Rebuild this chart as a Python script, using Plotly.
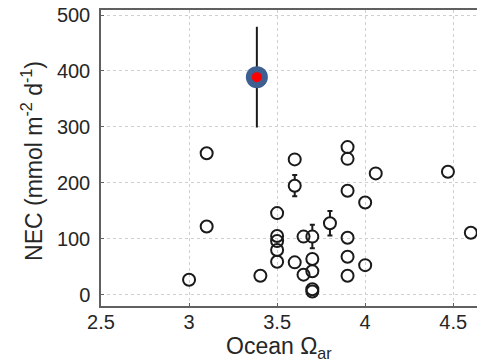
import plotly.graph_objects as go

# Open-circle observations (Ocean Omega_ar, NEC)
omega = [3.0, 3.1, 3.1, 3.405, 3.5, 3.5, 3.5, 3.5, 3.5, 3.6, 3.6, 3.6, 3.65, 3.65,
         3.7, 3.7, 3.7, 3.7, 3.7, 3.8, 3.9, 3.9, 3.9, 3.9, 3.9, 3.9, 4.0, 4.0,
         4.06, 4.47, 4.6]
nec = [27, 253, 122, 34, 146, 105, 96, 80, 59, 242, 195, 58, 104, 36,
       104, 64, 42, 10, 6, 128, 264, 243, 186, 102, 68, 34, 165, 53,
       217, 220, 111]

# Points with error bars
err_omega = [3.6, 3.7, 3.8, 3.9]
err_nec = [195, 104, 128, 186]
err_val = [19, 21, 22, 5]

# Highlighted point
hi_omega = [3.385]
hi_nec = [389]
hi_err = [90]

x_ticks = [2.5, 3.0, 3.5, 4.0, 4.5]
x_labels = ["2.5", "3", "3.5", "4", "4.5"]
y_ticks = [0, 100, 200, 300, 400, 500]
y_labels = ["0", "100", "200", "300", "400", "500"]

FONT = "Liberation Sans, Arial, sans-serif"
TXT = "#262626"
GRID = "#cfcfcf"

fig = go.Figure()

# error bars (with white disks hiding the part inside circles)
fig.add_trace(go.Scatter(
    x=err_omega, y=err_nec, mode="markers",
    marker=dict(size=12, color="white", line=dict(width=0)),
    error_y=dict(type="data", array=err_val, visible=True,
                 color="#1a1a1a", thickness=2, width=2.5),
    showlegend=False, hoverinfo="skip"))

fig.add_trace(go.Scatter(
    x=omega, y=nec, mode="markers",
    marker=dict(size=12, color="rgba(0,0,0,0)",
                line=dict(color="#1a1a1a", width=2)),
    showlegend=False))

fig.add_trace(go.Scatter(
    x=hi_omega, y=hi_nec, mode="markers",
    marker=dict(size=22, color="#3d5f91", line=dict(width=0)),
    error_y=dict(type="data", array=hi_err, visible=True,
                 color="#1a1a1a", thickness=2, width=0),
    showlegend=False))
fig.add_trace(go.Scatter(
    x=hi_omega, y=hi_nec, mode="markers",
    marker=dict(size=10, color="#ff0000", line=dict(width=0)),
    showlegend=False))

fig.update_layout(
    width=477, height=364,
    margin=dict(l=101, r=0, t=10, b=58),
    paper_bgcolor="white", plot_bgcolor="white",
    font=dict(family=FONT, color=TXT, size=20),
    xaxis=dict(range=[2.5, 4.635], tickvals=x_ticks, ticktext=x_labels,
               showgrid=True, gridcolor=GRID, griddash="dot", gridwidth=1,
               showline=True, linecolor="#606060", linewidth=1.5, mirror=True,
               ticks="inside", ticklen=3, tickcolor="#606060",
               tickfont=dict(size=20, family=FONT, color=TXT),
               zeroline=False, ticklabelstandoff=-3),
    yaxis=dict(range=[-20, 509], tickvals=y_ticks, ticktext=y_labels,
               showgrid=True, gridcolor=GRID, griddash="dot", gridwidth=1,
               showline=True, linecolor="#606060", linewidth=1.5, mirror=False,
               ticks="inside", ticklen=3, tickcolor="#606060",
               tickfont=dict(size=20, family=FONT, color=TXT),
               zeroline=False, ticklabelstandoff=5),
    annotations=[
        dict(text="NEC (mmol m<sup>-2</sup> d<sup>-1</sup>)", textangle=-90,
             xref="paper", yref="paper", x=-0.1835, y=0.49,
             xanchor="center", yanchor="middle", showarrow=False,
             font=dict(size=23, family=FONT, color=TXT)),
        dict(text="Ocean Ω<sub>ar</sub>",
             xref="paper", yref="paper", x=0.473, y=-0.14,
             xanchor="center", yanchor="middle", showarrow=False,
             font=dict(size=23, family=FONT, color=TXT)),
    ],
)

fig.write_html("out.html", config={"displayModeBar": False},
               post_script="document.body.style.margin='0';")
